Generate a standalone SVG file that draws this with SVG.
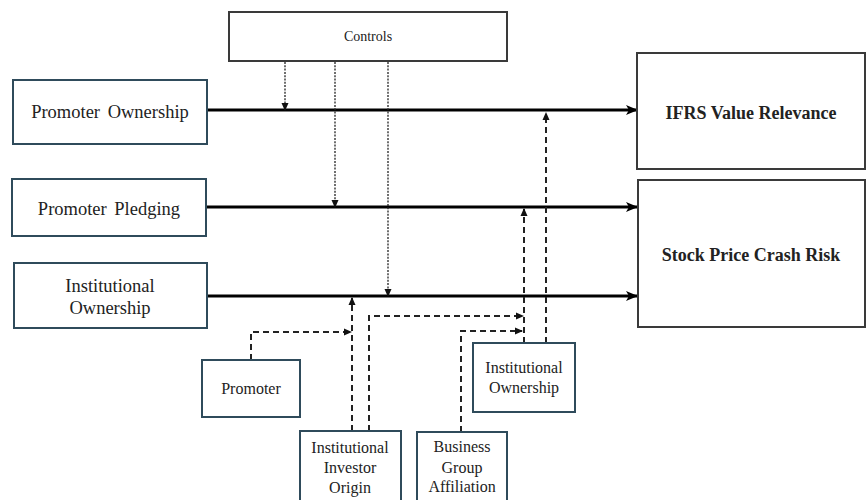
<svg xmlns="http://www.w3.org/2000/svg" width="867" height="500" viewBox="0 0 867 500">
<defs>
<style>
.bx{fill:#fff;stroke:#2f4b5b;stroke-width:2}
.bg{fill:#fff;stroke:#3a3a3a;stroke-width:2}
.t{font-family:"Liberation Serif","Times New Roman",serif;fill:#222;text-anchor:middle}
.tl{font-size:18.5px;word-spacing:3px}
.ts{font-size:16px}
.tb{font-size:18px;font-weight:bold}
.main{stroke:#000;stroke-width:3;fill:none}
.dot{stroke:#222;stroke-width:1.3;stroke-dasharray:2 1.3;fill:none}
.dash{stroke:#222;stroke-width:2;stroke-dasharray:6 4;fill:none}
</style>
<marker id="ah" markerUnits="userSpaceOnUse" markerWidth="12" markerHeight="10" refX="11" refY="5" orient="auto">
<path d="M0,0 L12,5 L0,10 L3,5 Z" fill="#000"/>
</marker>
<marker id="as" markerUnits="userSpaceOnUse" markerWidth="8" markerHeight="8" refX="7" refY="4" orient="auto">
<path d="M0,0.5 L8,4 L0,7.5 Z" fill="#111"/>
</marker>
</defs>

<g id="connectors">
<path class="main" d="M207,110 H637" marker-end="url(#ah)"/>
<path class="main" d="M206,207 H637" marker-end="url(#ah)"/>
<path class="main" d="M207,296 H637" marker-end="url(#ah)"/>
<path class="dot" d="M285,62 V110" marker-end="url(#as)"/>
<path class="dot" d="M335,62 V207" marker-end="url(#as)"/>
<path class="dot" d="M388,62 V296" marker-end="url(#as)"/>
<path class="dash" d="M251,360 V332 H351" marker-end="url(#as)"/>
<path class="dash" d="M352,431 V298" marker-end="url(#as)"/>
<path class="dash" d="M369,431 V316 H523" marker-end="url(#as)"/>
<path class="dash" d="M461,432 V331 H522" marker-end="url(#as)"/>
<path class="dash" d="M524,343 V209" marker-end="url(#as)"/>
<path class="dash" d="M546,343 V113" marker-end="url(#as)"/>
</g>

<g id="controls">
<rect class="bg" x="229" y="12" width="278" height="49"/>
<text class="t" x="368" y="41" font-size="14">Controls</text>
</g>

<g id="promoter-ownership">
<rect class="bx" x="13" y="80" width="194" height="64"/>
<text class="t tl" x="110" y="118">Promoter Ownership</text>
</g>

<g id="promoter-pledging">
<rect class="bx" x="12" y="179" width="194" height="57"/>
<text class="t tl" x="109" y="215">Promoter Pledging</text>
</g>

<g id="institutional-ownership-left">
<rect class="bx" x="14" y="263" width="193" height="65"/>
<text class="t tl" x="110" y="292">Institutional</text>
<text class="t tl" x="110" y="314">Ownership</text>
</g>

<g id="ifrs-value-relevance">
<rect class="bg" x="637" y="53" width="228" height="116"/>
<text class="t tb" x="751" y="119">IFRS Value Relevance</text>
</g>

<g id="stock-price-crash-risk">
<rect class="bg" x="638" y="180" width="227" height="147"/>
<text class="t tb" x="751" y="261">Stock Price Crash Risk</text>
</g>

<g id="promoter">
<rect class="bx" x="202" y="360" width="98" height="57"/>
<text class="t ts" x="251" y="394">Promoter</text>
</g>

<g id="institutional-investor-origin">
<rect class="bx" x="300" y="431" width="101" height="72"/>
<text class="t ts" x="350" y="453">Institutional</text>
<text class="t ts" x="350" y="473">Investor</text>
<text class="t ts" x="350" y="493">Origin</text>
</g>

<g id="business-group-affiliation">
<rect class="bx" x="417" y="432" width="90" height="71"/>
<text class="t ts" x="462" y="452">Business</text>
<text class="t ts" x="462" y="473">Group</text>
<text class="t ts" x="462" y="492">Affiliation</text>
</g>

<g id="institutional-ownership-mod">
<rect class="bx" x="473" y="343" width="102" height="69"/>
<text class="t ts" x="524" y="373">Institutional</text>
<text class="t ts" x="524" y="393">Ownership</text>
</g>
</svg>
